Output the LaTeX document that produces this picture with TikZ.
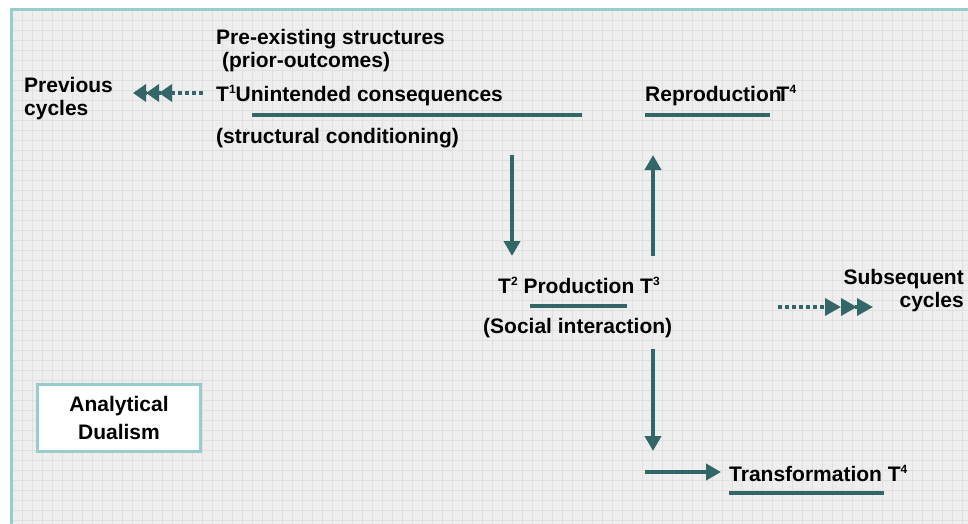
\documentclass[tikz,border=0pt]{standalone}
\usepackage{fontspec}
\setmainfont{Liberation Sans}
\usetikzlibrary{arrows.meta,positioning}
\definecolor{arrowteal}{HTML}{336666}
\definecolor{paleteal}{HTML}{99CCCC}
\definecolor{panel}{HTML}{EEEEEE}
\definecolor{gridgray}{HTML}{E0E0E0}
\newcommand\tsup[1]{\raisebox{8pt}{\fontsize{12}{12}\selectfont #1}}

\begin{document}
\begin{tikzpicture}[x=1pt,y=-1pt,
  lbl/.style={inner sep=0pt,anchor=base west,font=\bfseries\fontsize{21}{23}\selectfont},
  dualbox/.style={draw=paleteal,line width=3pt,fill=white,align=center,
    minimum width=163pt,minimum height=67pt,inner sep=0pt,
    font=\bfseries\fontsize{21}{28}\selectfont},
  uline/.style={arrowteal,line width=4pt},
  flow/.style={arrowteal,line width=4pt,-{Triangle[length=15pt,width=16pt]}},
  cyclesl/.style={arrowteal,line width=3.5pt,dash pattern=on 4pt off 3pt,
    -{Triangle[length=13pt,width=17pt]Triangle[length=13pt,width=17pt]Triangle[length=13pt,width=17pt]}},
  cyclesr/.style={arrowteal,line width=3.5pt,dash pattern=on 4pt off 3pt,
    -{Triangle[length=16pt,width=17pt]Triangle[length=16pt,width=17pt]Triangle[length=16pt,width=17pt]}}]
  \useasboundingbox (0,0) rectangle (968,524);
  % background sheet
  \fill[panel] (11,10) rectangle (968,524);
  \foreach \x in {22,32,...,962} \draw[gridgray,line width=0.8pt] (\x,11) -- (\x,524);
  \foreach \y in {20,30,...,520} \draw[gridgray,line width=0.8pt] (12,\y) -- (968,\y);
  \draw[paleteal,line width=3pt] (11,524) -- (11,10) -- (968,10);

  \node[lbl]          (pre)    at (216,45)  {Pre-existing structures};
  \node[lbl, below=23pt of pre.base west, anchor=base west]    (prior) {\ (prior-outcomes)};
  \node[lbl, below=34pt of prior.base west, anchor=base west]  (t1)    {T\tsup{1}Unintended consequences};
  \node[lbl, below=41pt of t1.base west, anchor=base west]     (cond)  {(structural conditioning)};
  \node[lbl, align=left]  (prev)   at (24,116)  {Previous\\cycles};
  \node[lbl]          (repro)  at (645,102) {Reproduction\kern-5pt T\tsup{4}};
  \node[lbl]          (prod)   at (498,293) {T\tsup{2} Production T\tsup{3}};
  \node[lbl, below=40pt of prod.base west, anchor=base west, xshift=-15pt] (social) {(Social interaction)};
  \node[lbl]          (trans)  at (729,481) {Transformation T\tsup{4}};
  \node[lbl, align=right, anchor=base east] (subs) at (964,307) {Subsequent\\cycles};
  \node[dualbox]      (dual)   at (119,418) {Analytical\\Dualism};

  % end points
  \coordinate (t1a) at (252,115);  \coordinate (t1b) at (582,115);
  \coordinate (rea) at (645,115);  \coordinate (reb) at (770,115);
  \coordinate (pra) at (530,306);  \coordinate (prb) at (627,306);
  \coordinate (tra) at (729,493);  \coordinate (trb) at (884,493);
  \coordinate (A) at (512,155);    \coordinate (B) at (512,256);
  \coordinate (C) at (653,256);    \coordinate (D) at (653,155);
  \coordinate (E) at (653,349);    \coordinate (F) at (653,451);
  \coordinate (G) at (645,472);    \coordinate (H) at (721,472);
  \coordinate (P) at (203,93);     \coordinate (Q) at (133,93);
  \coordinate (R) at (778,307);    \coordinate (S) at (873,307);

  \draw[uline] (t1a) -- (t1b);
  \draw[uline] (rea) -- (reb);
  \draw[uline] (pra) -- (prb);
  \draw[uline] (tra) -- (trb);
  \draw[flow] (A) -- (B);
  \draw[flow] (C) -- (D);
  \draw[flow] (E) -- (F);
  \draw[flow] (G) -- (H);
  \draw[cyclesl] (P) -- (Q);
  \draw[cyclesr] (R) -- (S);
\end{tikzpicture}
\end{document}
